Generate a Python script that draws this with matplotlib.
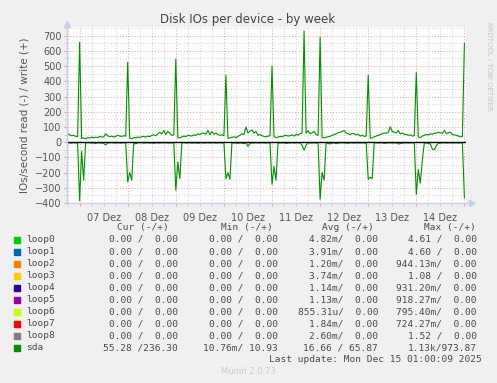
import numpy as np
import matplotlib
matplotlib.use('Agg')
import matplotlib.pyplot as plt
from matplotlib.patches import Rectangle

# uma amostra por hora, contando a partir de 07 Dez 00:00 (de -6h até 192h)
write_antes = [55, 48, 42, 45, 38, 36]
write_07 = [657, 25, 28, 22, 30, 27, 33, 29, 32, 30, 38, 33, 35, 55, 42, 36, 40, 34, 38, 45, 40, 38, 42, 40]
write_08 = [525, 26, 22, 30, 28, 34, 31, 35, 38, 33, 40, 36, 45, 48, 42, 55, 65, 55, 77, 50, 70, 60, 45, 48]
write_09 = [545, 30, 28, 35, 40, 36, 45, 42, 40, 48, 44, 55, 50, 58, 60, 52, 77, 50, 70, 52, 60, 50, 45, 48]
write_10 = [42, 441, 25, 28, 32, 35, 30, 38, 45, 55, 50, 100, 60, 72, 80, 60, 70, 45, 50, 42, 38, 35, 40, 42]
write_11 = [500, 35, 30, 33, 38, 36, 42, 45, 40, 42, 48, 40, 50, 46, 55, 60, 731, 60, 75, 55, 62, 70, 50, 45]
write_12 = [690, 30, 28, 33, 36, 38, 45, 50, 55, 62, 66, 70, 77, 60, 55, 50, 58, 55, 48, 52, 40, 45, 38, 40]
write_13 = [441, 26, 28, 35, 40, 45, 50, 55, 60, 58, 65, 100, 70, 66, 60, 77, 55, 60, 52, 50, 45, 48, 40, 42]
write_14 = [457, 33, 30, 40, 45, 50, 48, 55, 52, 58, 60, 65, 62, 58, 77, 55, 62, 66, 50, 48, 45, 40, 35, 38]
write_15 = [650]

read_antes = [-5, -4, -6, -3, -5, -6]
read_07 = [-385, -60, -250, -5, -3, -4, -6, -5, -8, -4, -5, -6, -8, -18, -6, -4, -3, -5, -6, -4, -5, -6, -4, -5]
read_08 = [-261, -200, -250, -5, -12, -4, -5, -3, -6, -5, -4, -6, -5, -8, -4, -5, -6, -4, -5, -3, -6, -5, -4, -5]
read_09 = [-316, -130, -240, -6, -3, -6, -5, -4, -6, -5, -4, -8, -5, -4, -6, -5, -4, -6, -5, -4, -6, -5, -4, -5]
read_10 = [-5, -240, -200, -244, -4, -6, -5, -8, -5, -6, -10, -4, -28, -8, -5, -6, -4, -5, -6, -4, -5, -6, -4, -5]
read_11 = [-277, -160, -250, -5, -6, -4, -5, -8, -6, -5, -4, -6, -5, -4, -6, -20, -53, -20, -4, -6, -5, -4, -6, -5]
read_12 = [-375, -200, -250, -5, -8, -12, -6, -5, -10, -6, -5, -4, -6, -5, -8, -4, -5, -6, -4, -5, -6, -4, -5, -6]
read_13 = [-244, -230, -240, -5, -4, -6, -5, -4, -8, -6, -5, -4, -6, -5, -4, -12, -10, -6, -5, -4, -6, -5, -4, -5]
read_14 = [-343, -180, -270, -120, -4, -6, -8, -12, -45, -50, -22, -8, -6, -5, -4, -6, -5, -4, -6, -5, -4, -6, -5, -4]
read_15 = [-367]

dias = ['07 Dez', '08 Dez', '09 Dez', '10 Dez', '11 Dez', '12 Dez', '13 Dez', '14 Dez']

legenda_nomes = ['loop0', 'loop1', 'loop2', 'loop3', 'loop4', 'loop5', 'loop6', 'loop7', 'loop8', 'sda']
legenda_cores = ['#00CC00', '#0066B3', '#FF8000', '#FFCC00', '#330099',
                 '#990099', '#CCFF00', '#FF0000', '#808080', '#008F00']
col_cur = ['0.00 /  0.00'] * 9 + ['55.28 /236.30']
col_min = ['0.00 /  0.00'] * 9 + ['10.76m/ 10.93']
col_avg = ['4.82m/  0.00', '3.91m/  0.00', '1.20m/  0.00', '3.74m/  0.00', '1.14m/  0.00',
           '1.13m/  0.00', '855.31u/  0.00', '1.84m/  0.00', '2.60m/  0.00', '16.66 / 65.87']
col_max = ['4.61 /  0.00', '4.60 /  0.00', '944.13m/  0.00', '1.08 /  0.00', '931.20m/  0.00',
           '918.27m/  0.00', '795.40m/  0.00', '724.27m/  0.00', '1.52 /  0.00', '1.13k/973.87']

write_vals = (write_antes + write_07 + write_08 + write_09 + write_10 + write_11
              + write_12 + write_13 + write_14 + write_15)
read_vals = (read_antes + read_07 + read_08 + read_09 + read_10 + read_11
             + read_12 + read_13 + read_14 + read_15)
horas = np.arange(-6, -6 + len(write_vals))

W, H = 497, 383
fig = plt.figure(figsize=(W / 100, H / 100), dpi=100, facecolor='#F0F0F0')
ax = fig.add_axes([67 / W, 1 - 203 / H, (466 - 67) / W, (203 - 27) / H])
ax.set_facecolor('white')

ax.set_xlim(-6.3, 192.8)
ax.set_ylim(-400, 757)

# grade estilo munin
ax.set_xticks(np.arange(0, 193, 24))
ax.set_xticks([h for h in range(-6, 193, 6) if h % 24 != 0], minor=True)
ax.set_xticklabels([])
ax.set_xticklabels([dias[(h - 12) // 24] if h % 24 == 12 else '' for h in range(-6, 193, 6) if h % 24 != 0],
                   minor=True)
ax.set_yticks(np.arange(-400, 701, 100))
ax.set_yticks(np.arange(-350, 751, 100), minor=True)
ax.grid(True, which='major', color='#EBA0A0', ls=(0, (1, 2)), lw=0.7)
ax.grid(True, which='minor', color='#CFCFCF', ls=(0, (1, 2)), lw=0.7)
ax.set_axisbelow(True)
ax.tick_params(which='both', length=2, color='#EBA0A0', labelsize=7, labelcolor='#555555', pad=2)
ax.tick_params(axis='x', which='minor', pad=5, color='#CFCFCF')
ax.tick_params(axis='y', which='minor', color='#CFCFCF')

for lado in ['top', 'right']:
    ax.spines[lado].set_visible(False)
for lado in ['left', 'bottom']:
    ax.spines[lado].set_color('#CCCCEE')
    ax.spines[lado].set_linewidth(1)
ax.plot([0], [1.015], marker='^', ms=4, color='#CCCCEE', transform=ax.transAxes, clip_on=False)
ax.plot([1.015], [0], marker='>', ms=4, color='#CCCCEE', transform=ax.transAxes, clip_on=False)
ax.plot([0, 0], [1, 1.015], color='#CCCCEE', lw=1, transform=ax.transAxes, clip_on=False)
ax.plot([1, 1.015], [0, 0], color='#CCCCEE', lw=1, transform=ax.transAxes, clip_on=False)

ax.plot(horas, write_vals, color='#008F00', lw=0.8)
ax.plot(horas, read_vals, color='#008F00', lw=0.8)
ax.axhline(0, color='black', lw=1)

ax.set_ylabel('IOs/second read (-) / write (+)', fontsize=7.5, color='#555555', labelpad=4)
fig.text(248 / W, 1 - 19 / H, 'Disk IOs per device - by week', ha='center', va='center',
         fontsize=8.5, color='#444444')
fig.text(489 / W, 1 - 22 / H, 'RRDTOOL / TOBI OETIKER', rotation=270, ha='center', va='top',
         fontsize=5, color='#C8C8C8')

# tabela da legenda
mono = dict(family='DejaVu Sans Mono', fontsize=6.8, color='#4A4A4A', va='center')
y0 = 227.5
fig.text(169 / W, 1 - y0 / H, 'Cur (-/+)', ha='right', **mono)
fig.text(273 / W, 1 - y0 / H, 'Min (-/+)', ha='right', **mono)
fig.text(374 / W, 1 - y0 / H, 'Avg (-/+)', ha='right', **mono)
fig.text(476 / W, 1 - y0 / H, 'Max (-/+)', ha='right', **mono)
for i, nome in enumerate(legenda_nomes):
    y = 239.5 + 12.05 * i
    fig.patches.append(Rectangle((14 / W, 1 - (y + 3) / H), 6 / W, 6 / H,
                                 transform=fig.transFigure, color=legenda_cores[i]))
    fig.text(26 / W, 1 - y / H, nome, ha='left', **mono)
    fig.text(178 / W, 1 - y / H, col_cur[i], ha='right', **mono)
    fig.text(278 / W, 1 - y / H, col_min[i], ha='right', **mono)
    fig.text(378 / W, 1 - y / H, col_avg[i], ha='right', **mono)
    fig.text(477 / W, 1 - y / H, col_max[i], ha='right', **mono)
fig.text(482 / W, 1 - 359.7 / H, 'Last update: Mon Dec 15 01:00:09 2025', ha='right', **mono)
fig.text(248 / W, 1 - 371.7 / H, 'Munin 2.0.73', ha='center', va='center', fontsize=6, color='#CCCCCC')

fig.savefig('out.png', dpi=100, facecolor=fig.get_facecolor())
